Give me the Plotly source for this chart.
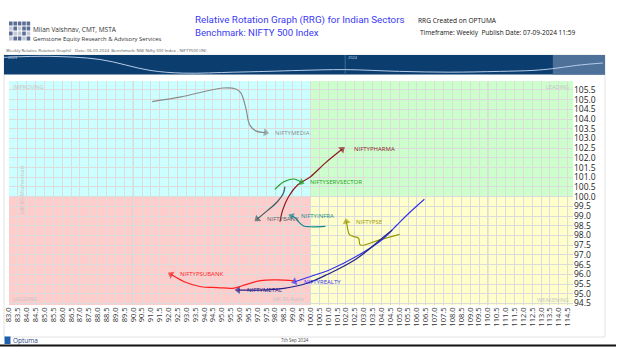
import plotly.graph_objects as go

W, H = 621, 358
def px(x): return x / W
def py(y): return 1 - y / H

# ---------------- data ----------------
x_ticks = [83.0 + 0.5 * i for i in range(64)]
y_ticks = [94.5 + 0.5 * i for i in range(23)]
x_range = [83.0, 114.8]
y_range = [94.42, 105.96]

series_names = ["NIFTYMEDIA", "NIFTYPHARMA", "NIFTYSERVSECTOR", "NIFTYBANK", "NIFTYINFRA",
                "NIFTYPSE", "NIFTYREALTY", "NIFTYMETAL", "NIFTYPSUBANK"]
media_x = [91.07, 92.70, 95.06, 95.79, 96.07, 96.35, 96.57, 96.91, 97.47]
media_y = [104.90, 105.14, 105.60, 105.55, 105.35, 104.58, 103.70, 103.39, 103.30]
pharma_x = [98.28, 98.43, 98.76, 99.27, 100.00, 100.84, 101.78]
pharma_y = [98.71, 99.31, 100.00, 100.60, 101.03, 101.74, 102.44]
serv_x = [97.99, 98.50, 99.06, 99.48]
serv_y = [100.38, 100.77, 100.91, 100.74]
bank_x = [98.56, 98.47, 98.13, 97.57, 97.00]
bank_y = [100.52, 100.18, 99.74, 99.28, 98.85]
infra_x = [100.84, 100.00, 99.61, 99.33, 99.16, 98.93]
infra_y = [98.47, 98.45, 98.49, 98.70, 98.90, 99.00]
pse_x = [105.02, 103.93, 102.81, 102.71, 102.21, 102.06, 102.02]
pse_y = [98.06, 97.79, 97.51, 97.86, 98.03, 98.54, 98.71]
realty_x = [106.42, 105.62, 104.87, 104.12, 102.62, 101.12, 100.00, 99.10]
realty_y = [99.87, 99.21, 98.54, 97.85, 96.94, 96.25, 95.89, 95.62]
metal_x = [104.61, 104.12, 102.62, 100.94, 99.81, 98.50, 97.19, 95.92]
metal_y = [98.28, 97.92, 96.82, 95.99, 95.54, 95.28, 95.19, 95.19]
psubank_x = [99.06, 98.13, 97.19, 96.35, 95.69, 94.76, 93.82, 92.88, 92.13]
psubank_y = [95.67, 95.71, 95.68, 95.47, 95.29, 95.32, 95.36, 95.62, 96.00]

strip_dates = ["2023-02-08", "2023-03-24", "2023-05-11", "2023-06-28", "2023-07-30", "2023-09-16",
               "2023-10-18", "2023-11-19", "2024-01-01", "2024-02-22", "2024-04-10", "2024-05-28",
               "2024-06-29", "2024-07-18", "2024-08-10", "2024-09-04"]
strip_vals = [0.88, 0.93, 0.77, 0.21, 0.07, 0.12, 0.16, 0.21, 0.25, 0.16, 0.12, 0.16,
              0.21, 0.30, 0.47, 0.59]

xs = [media_x, pharma_x, serv_x, bank_x, infra_x, pse_x, realty_x, metal_x, psubank_x]
ys = [media_y, pharma_y, serv_y, bank_y, infra_y, pse_y, realty_y, metal_y, psubank_y]
colors = ["#8c8c8c", "#8b1a1a", "#1f9e1f", "#3d5c5c", "#138a8a", "#9a9a00", "#3535f0", "#22228a", "#ff2020"]
label_colors = ["#8c8c8c", "#8b1a1a", "#1f9e1f", "#666666", "#138a8a", "#9a9a00", "#3535f0", "#22228a", "#ff2020"]
label_shift = [7, 10, 7, 8, 7, 8, 7, 7, 7]

FONT = "Open Sans"
fig = go.Figure()

for name, x, y, c in zip(series_names, xs, ys, colors):
    n = len(x)
    fig.add_trace(go.Scatter(
        x=x, y=y, mode="lines+markers", name=name,
        line=dict(color=c, width=1.2, shape="spline", smoothing=1.0),
        marker=dict(symbol="triangle-up", size=[0] * (n - 1) + [7], color=c,
                    angleref="previous", line=dict(width=0)),
        hoverinfo="skip", showlegend=False))

fig.add_trace(go.Scatter(x=strip_dates, y=strip_vals, xaxis="x2", yaxis="y2", mode="lines",
                         line=dict(color="#b5cce8", width=1, shape="spline"), showlegend=False,
                         hoverinfo="skip"))

shapes = []
annotations = []

# quadrants
quads = [(x_range[0], 100, 100, y_range[1], "#ccffff"),
         (100, x_range[1], 100, y_range[1], "#ccffcc"),
         (x_range[0], 100, y_range[0], 100, "#ffcccc"),
         (100, x_range[1], y_range[0], 100, "#ffffcc")]
for x0, x1, y0, y1, c in quads:
    shapes.append(dict(type="rect", xref="x", yref="y", x0=x0, x1=x1, y0=y0, y1=y1,
                       fillcolor=c, line=dict(width=0), layer="below"))
for v in [90, 110]:
    shapes.append(dict(type="line", xref="x", yref="y", x0=v, x1=v, y0=y_range[0], y1=y_range[1],
                       line=dict(color="#d0d0d0", width=1.2), layer="below"))

# panel border
shapes.append(dict(type="rect", xref="paper", yref="paper", x0=px(4), x1=px(605), y0=py(337), y1=py(55),
                   line=dict(color="#e2e2e2", width=1), layer="below"))
# strip background
shapes.append(dict(type="rect", xref="paper", yref="paper", x0=px(4), x1=px(605), y0=py(74.5), y1=py(55),
                   fillcolor="#0b3d6e", line=dict(width=0), layer="below"))
shapes.append(dict(type="rect", xref="x2", yref="paper", x0="2024-07-18", x1="2024-09-06", y0=py(74.5), y1=py(55),
                   fillcolor="#4e719a", line=dict(width=0), layer="below"))
shapes.append(dict(type="line", xref="x2", yref="paper", x0="2024-01-01", x1="2024-01-01", y0=py(74.5), y1=py(55),
                   line=dict(color="#3f6a96", width=1), layer="below"))
# bottom black line
shapes.append(dict(type="line", xref="paper", yref="paper", x0=0, x1=px(616), y0=py(345.5), y1=py(345.5),
                   line=dict(color="#111111", width=2)))

# logo squares
logo_cols = [9, 13.4, 17.8, 22.2, 26.6]
logo_rows = [21.5, 26.5, 31.5, 36.5]
logo_pat = ["DDDDD", "LDLDD", "DLLDL", "LDDLD"]
for ri, r in enumerate(logo_rows):
    for ci, cx in enumerate(logo_cols):
        col = "#5b6e96" if logo_pat[ri][ci] == "D" else "#c3c9d6"
        shapes.append(dict(type="rect", xref="paper", yref="paper", x0=px(cx), x1=px(cx + 3.6),
                           y0=py(r + 4), y1=py(r), fillcolor=col, line=dict(width=0)))
# optuma logo icon
shapes.append(dict(type="rect", xref="paper", yref="paper", x0=px(4.5), x1=px(10.5), y0=py(344), y1=py(336.5),
                   fillcolor="#1f5fb0", line=dict(width=0)))

def txt(x, y, s, size, color, xanchor="left", font=FONT, **kw):
    annotations.append(dict(xref="paper", yref="paper", x=px(x), y=py(y), text=s, showarrow=False,
                            xanchor=xanchor, yanchor="middle", xshift=0,
                            font=dict(family=font, size=size, color=color), **kw))

txt(31, 30, "Milan Vaishnav, CMT, MSTA", 6.5, "#333333")
txt(31, 39.5, "Gemstone Equity Research &amp; Advisory Services", 5.9, "#333333")
txt(193, 20, "Relative Rotation Graph (RRG) for Indian Sectors", 9.8, "#3b3bf5", font="Roboto")
txt(193, 32.5, "Benchmark: NIFTY 500 Index", 9.6, "#3b3bf5", font="Roboto")
txt(416, 20, "RRG Created on OPTUMA", 6.6, "#111111")
txt(418, 32.5, "Timeframe: Weekly  Publish Date: 07-09-2024 11:59", 6.5, "#111111")
txt(4, 50, "Weekly Relative Rotation Graph#   Date: 06-09-2024  Benchmark: NSE Nifty 500 Index - NIFTY500 (IN)", 4.3, "#555555")
txt(6, 57.5, "2023", 4, "#c8d6e8")
txt(346, 57.5, "2024", 4, "#c8d6e8")
txt(11, 340.5, "Optuma", 6.5, "#1f3f80")
txt(295, 340, "7th Sep 2024", 4.5, "#444444", xanchor="center")

# quadrant labels
qc = "#c4c4c4"
txt(11, 87.5, "IMPROVING", 5.5, qc)
txt(571, 87.5, "LEADING", 5.5, qc, xanchor="right")
txt(11, 299, "LAGGING", 5.5, qc)
txt(571, 299.5, "WEAKENING", 5.5, qc, xanchor="right")
txt(307, 298.5, "JdK RS-Ratio", 5.5, qc, xanchor="right")
annotations.append(dict(xref="paper", yref="paper", x=px(16), y=py(191), text="JdK RS-Momentum", showarrow=False,
                        textangle=-90, font=dict(family=FONT, size=5.5, color=qc)))

# trail labels
for name, x, y, c, s in zip(series_names, xs, ys, label_colors, label_shift):
    annotations.append(dict(xref="x", yref="y", x=x[-1], y=y[-1], text=name, showarrow=False,
                            xanchor="left", yanchor="middle", xshift=s,
                            font=dict(family=FONT, size=6, color=c)))

fig.update_layout(
    width=W, height=H, margin=dict(l=0, r=0, t=0, b=0),
    paper_bgcolor="white", plot_bgcolor="white",
    shapes=shapes, annotations=annotations,
    xaxis=dict(domain=[px(9), px(573)], range=x_range, tickmode="array", tickvals=x_ticks,
               ticktext=["%.1f" % v for v in x_ticks], tickangle=-90, automargin=False,
               tickfont=dict(family=FONT, size=7.5, color="#333333"),
               showgrid=True, gridcolor="#dcdcdc", gridwidth=1, zeroline=False, showline=False,
               ticks="", fixedrange=True),
    yaxis=dict(domain=[py(305), py(81)], range=y_range, side="right", tickmode="array", tickvals=y_ticks,
               ticktext=["%.1f" % v for v in y_ticks], tickfont=dict(family=FONT, size=8.5, color="#222222"),
               showgrid=True, gridcolor="#dcdcdc", gridwidth=1, zeroline=False, showline=False,
               ticks="", fixedrange=True, automargin=False),
    xaxis2=dict(domain=[px(4), px(605)], range=["2023-02-08", "2024-09-06"], type="date", anchor="y2",
                visible=False, fixedrange=True, automargin=False),
    yaxis2=dict(domain=[py(74.5), py(55)], range=[0, 1], anchor="x2", visible=False, fixedrange=True,
                automargin=False),
)

fig.write_html("out.html", config={"displayModeBar": False},
               post_script="document.body.style.margin='0px';document.body.style.overflow='hidden';")
